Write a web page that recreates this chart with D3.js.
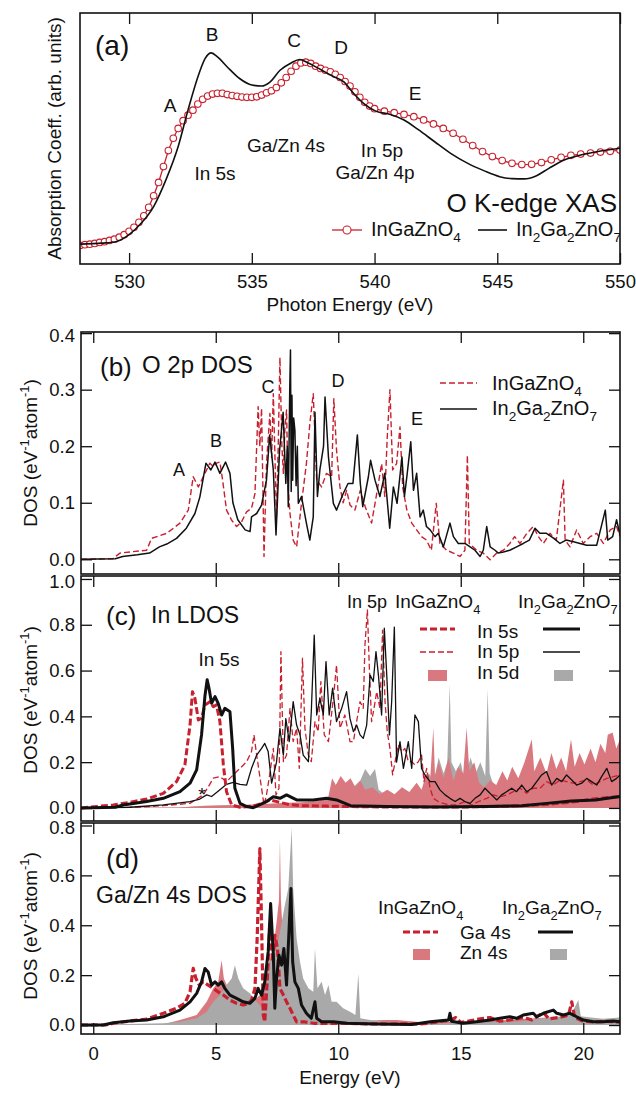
<!DOCTYPE html>
<html>
<head>
<meta charset="utf-8">
<script src="https://cdnjs.cloudflare.com/ajax/libs/d3/7.8.5/d3.min.js"></script>
<style>
  body { margin: 0; background: #fff; }
  svg { display: block; font-family: "Liberation Sans", Arial, sans-serif; }
</style>
</head>
<body>
<svg id="chart" width="636" height="1093"></svg>
<script>
// ---------- (a) O K-edge XAS, [photon energy eV, arb. units] ----------
const xasIGZO = [[528.0,0.074],[528.2,0.077],[528.4,0.079],[528.6,0.082],[528.8,0.086],[529.0,0.089],[529.2,0.094],[529.4,0.099],[529.6,0.107],[529.8,0.117],[530.0,0.13],[530.2,0.146],[530.4,0.166],[530.6,0.192],[530.8,0.226],[531.0,0.272],[531.2,0.325],[531.4,0.388],[531.6,0.452],[531.8,0.501],[532.0,0.54],[532.2,0.571],[532.4,0.593],[532.6,0.613],[532.8,0.637],[533.0,0.656],[533.2,0.669],[533.4,0.677],[533.6,0.68],[533.8,0.68],[534.0,0.675],[534.2,0.671],[534.4,0.668],[534.6,0.665],[534.8,0.664],[535.0,0.664],[535.2,0.666],[535.4,0.673],[535.6,0.682],[535.8,0.69],[536.0,0.703],[536.2,0.722],[536.4,0.743],[536.6,0.768],[536.8,0.788],[537.0,0.801],[537.2,0.804],[537.4,0.799],[537.6,0.788],[537.8,0.779],[538.0,0.772],[538.2,0.766],[538.4,0.756],[538.6,0.743],[538.8,0.727],[539.0,0.709],[539.2,0.686],[539.4,0.664],[539.6,0.644],[539.8,0.629],[540.0,0.619],[540.4,0.609],[540.8,0.603],[541.2,0.596],[541.6,0.587],[542.0,0.574],[542.4,0.558],[542.8,0.54],[543.2,0.521],[543.6,0.497],[544.0,0.472],[544.4,0.448],[544.8,0.428],[545.2,0.412],[545.6,0.401],[546.0,0.396],[546.4,0.397],[546.8,0.404],[547.2,0.415],[547.6,0.425],[548.0,0.433],[548.4,0.438],[548.8,0.442],[549.2,0.446],[549.6,0.449],[550.0,0.454]];
const xasIn2 = [[528.0,0.079],[528.9,0.083],[529.5,0.09],[530.0,0.117],[530.5,0.163],[531.0,0.229],[531.5,0.335],[532.0,0.468],[532.4,0.613],[532.85,0.759],[533.1,0.819],[533.35,0.841],[533.6,0.825],[534.0,0.785],[534.5,0.739],[535.0,0.713],[535.4,0.709],[535.75,0.726],[536.15,0.772],[536.6,0.801],[536.95,0.815],[537.3,0.801],[537.8,0.775],[538.3,0.748],[538.75,0.726],[539.15,0.679],[539.55,0.64],[540.05,0.609],[540.65,0.596],[541.2,0.574],[541.8,0.534],[542.45,0.487],[543.1,0.441],[543.8,0.401],[544.45,0.372],[545.1,0.348],[545.6,0.34],[546.1,0.339],[546.6,0.352],[547.1,0.381],[547.75,0.415],[548.4,0.434],[549.1,0.448],[550.0,0.461]];
const xasTicks = [530, 535, 540, 545, 550];

// ---------- (b) O 2p DOS, [energy eV, DOS] ----------
const o2pIGZO = [[-0.5,0],[0.8,0.001],[1.09,0.011],[1.5,0.013],[2.18,0.016],[2.38,0.037],[3.0,0.046],[3.54,0.064],[3.88,0.087],[4.08,0.146],[4.29,0.128],[4.49,0.146],[4.76,0.17],[4.9,0.164],[5.03,0.17],[5.17,0.172],[5.28,0.14],[5.44,0.087],[5.65,0.069],[5.85,0.058],[6.05,0.066],[6.26,0.084],[6.46,0.09],[6.6,0.116],[6.73,0.27],[6.8,0.2],[6.87,0.267],[6.97,0.005],[7.07,0.169],[7.21,0.258],[7.28,0.18],[7.35,0.293],[7.48,0.075],[7.55,0.2],[7.62,0.357],[7.7,0.2],[7.76,0.152],[7.82,0.23],[7.89,0.264],[7.95,0.13],[8.03,0.081],[8.16,0.034],[8.3,0.022],[8.5,0.099],[8.7,0.169],[8.84,0.24],[8.98,0.293],[9.12,0.14],[9.32,0.128],[9.52,0.152],[9.73,0.146],[9.82,0.284],[9.93,0.193],[10.07,0.128],[10.2,0.1],[10.34,0.122],[10.48,0.096],[10.68,0.087],[10.9,0.122],[11.1,0.093],[11.36,0.064],[11.57,0.116],[11.77,0.169],[11.9,0.111],[12.0,0.216],[12.11,0.30],[12.22,0.158],[12.38,0.169],[12.52,0.234],[12.63,0.128],[12.8,0.087],[13.0,0.064],[13.2,0.052],[13.4,0.04],[13.6,0.034],[13.8,0.016],[14.0,0.099],[14.15,0.028],[14.43,0.016],[14.7,0.011],[14.97,0.005],[15.17,0.016],[15.27,0.184],[15.35,0.028],[15.65,0.016],[15.92,0.011],[16.2,-0.001],[16.47,0.011],[16.74,0.016],[17.0,0.028],[17.2,0.04],[17.42,0.028],[17.7,0.046],[17.96,0.058],[18.17,0.04],[18.37,0.028],[18.64,0.046],[18.9,0.034],[19.19,0.14],[19.26,0.034],[19.46,0.022],[19.73,0.052],[20.0,0.028],[20.28,0.04],[20.55,0.046],[20.82,0.028],[21.1,0.052],[21.36,0.058],[21.5,0.04]];
const o2pIn2 = [[-0.5,0],[0.9,0.001],[1.2,0.005],[1.8,0.008],[2.3,0.011],[2.7,0.022],[3.0,0.027],[3.4,0.037],[3.8,0.055],[4.15,0.081],[4.35,0.11],[4.6,0.17],[4.8,0.158],[4.97,0.172],[5.17,0.152],[5.4,0.172],[5.58,0.152],[5.7,0.10],[5.9,0.07],[6.2,0.052],[6.4,0.049],[6.46,0.075],[6.67,0.081],[6.87,0.096],[7.07,0.14],[7.2,0.22],[7.35,0.158],[7.46,0.043],[7.6,0.19],[7.75,0.26],[7.86,0.134],[7.92,0.2],[7.96,0.093],[8.02,0.3],[8.05,0.37],[8.08,0.12],[8.11,0.29],[8.14,0.14],[8.18,0.25],[8.23,0.228],[8.28,0.13],[8.33,0.2],[8.37,0.099],[8.5,0.111],[8.7,0.064],[8.84,0.034],[8.98,0.075],[9.05,0.26],[9.15,0.111],[9.25,0.158],[9.4,0.2],[9.46,0.287],[9.6,0.181],[9.8,0.099],[9.93,0.087],[10.2,0.116],[10.4,0.134],[10.6,0.134],[10.78,0.22],[10.9,0.134],[11.0,0.093],[11.23,0.146],[11.32,0.175],[11.5,0.14],[11.7,0.111],[11.9,0.152],[12.1,0.055],[12.25,0.128],[12.4,0.099],[12.6,0.181],[12.7,0.111],[12.8,0.146],[12.96,0.208],[13.07,0.122],[13.2,0.152],[13.34,0.075],[13.47,0.087],[13.6,0.058],[13.75,0.052],[13.95,0.04],[14.08,0.046],[14.29,0.022],[14.56,0.064],[14.7,0.04],[14.9,0.028],[15.17,0.028],[15.38,0.022],[15.58,0.016],[15.79,0.005],[15.92,0.016],[16.06,0.058],[16.2,0.022],[16.4,0.016],[16.53,0.011],[16.74,0.013],[17.0,0.016],[17.28,0.022],[17.55,0.028],[17.8,0.034],[18.03,0.055],[18.23,0.046],[18.5,0.046],[18.8,0.037],[19.05,0.028],[19.3,0.034],[19.6,0.031],[19.87,0.028],[20.14,0.025],[20.55,0.025],[20.9,0.087],[21.0,0.034],[21.2,0.04],[21.36,0.07],[21.5,0.043]];

// ---------- (c) In LDOS ----------
const in5sIGZO = [[-0.5,0],[0.82,0.013],[1.5,0.025],[2.18,0.039],[2.86,0.064],[3.4,0.115],[3.74,0.188],[3.95,0.362],[4.05,0.508],[4.15,0.479],[4.29,0.384],[4.42,0.392],[4.56,0.45],[4.76,0.464],[4.9,0.442],[5.03,0.45],[5.17,0.377],[5.31,0.188],[5.44,0.071],[5.65,0.013],[5.99,0.003],[6.5,0.008],[6.9,0.02],[7.2,0.035],[7.6,0.025],[8.0,0.015],[8.5,0.01],[9.5,0.008],[11,0.005],[13,0.004],[15,0.004],[17,0.008],[18.5,0.015],[19.5,0.025],[20.5,0.04],[21.5,0.05]];
const in5sIn2 = [[-0.5,0],[0.9,0.003],[1.22,0.013],[2.18,0.028],[2.86,0.042],[3.54,0.071],[3.95,0.108],[4.22,0.166],[4.42,0.319],[4.56,0.49],[4.65,0.56],[4.73,0.52],[4.83,0.457],[4.97,0.486],[5.1,0.457],[5.24,0.406],[5.37,0.435],[5.58,0.42],[5.69,0.26],[5.78,0.086],[5.99,0.02],[6.26,0.006],[6.53,0.001],[7.07,0.028],[7.35,0.049],[7.62,0.042],[7.89,0.057],[8.3,0.035],[8.98,0.035],[9.52,0.042],[9.93,0.035],[10.5,0.01],[12,0.006],[14,0.004],[16,0.006],[17.5,0.01],[18.5,0.02],[19.5,0.03],[20.5,0.035],[21.5,0.05]];
const in5pIGZO = [[-0.5,0],[2.0,0.004],[2.86,0.01],[3.95,0.02],[4.49,0.057],[4.7,0.093],[4.9,0.13],[5.17,0.137],[5.44,0.115],[5.71,0.144],[5.99,0.173],[6.26,0.202],[6.46,0.246],[6.56,0.319],[6.67,0.231],[6.87,0.086],[6.97,0.013],[7.07,0.057],[7.2,0.144],[7.35,0.26],[7.46,0.057],[7.58,0.086],[7.66,0.683],[7.76,0.202],[7.89,0.231],[8.03,0.435],[8.16,0.29],[8.3,0.348],[8.41,0.173],[8.54,0.654],[8.64,0.348],[8.78,0.231],[8.9,0.202],[9.05,0.377],[9.18,0.333],[9.29,0.552],[9.43,0.319],[9.6,0.29],[9.8,0.479],[9.93,0.624],[10.07,0.348],[10.27,0.406],[10.48,0.29],[10.62,0.29],[10.75,0.377],[10.89,0.464],[11.02,0.435],[11.09,0.712],[11.19,0.865],[11.27,0.61],[11.36,0.377],[11.46,0.435],[11.57,0.508],[11.7,0.435],[11.81,0.777],[11.91,0.464],[12.0,0.333],[12.11,0.26],[12.22,0.144],[12.32,0.202],[12.45,0.275],[12.59,0.246],[12.72,0.26],[12.86,0.202],[13.0,0.202],[13.13,0.188],[13.27,0.202],[13.4,0.231],[13.5,0.115],[13.61,0.173],[13.75,0.086],[13.88,0.042],[14.08,0.028],[14.29,0.02],[14.56,0.013],[14.83,0.013],[15.17,0.028],[15.45,0.013],[15.72,0.028],[16.06,0.042],[16.33,0.057],[16.6,0.049],[16.87,0.057],[17.15,0.071],[17.42,0.086],[17.69,0.064],[17.96,0.086],[18.24,0.086],[18.5,0.115],[18.78,0.1],[19.05,0.122],[19.32,0.115],[19.6,0.108],[19.87,0.115],[20.14,0.122],[20.41,0.1],[20.68,0.115],[20.96,0.129],[21.23,0.137],[21.5,0.144]];
const in5pIn2 = [[-0.5,0],[1.5,0.003],[2.86,0.013],[3.95,0.028],[4.35,0.039],[4.63,0.057],[4.83,0.05],[5.17,0.079],[5.44,0.103],[5.71,0.112],[5.99,0.103],[6.26,0.1],[6.46,0.173],[6.67,0.231],[6.87,0.26],[7.0,0.282],[7.14,0.246],[7.28,0.108],[7.48,0.2],[7.62,0.348],[7.76,0.231],[7.86,0.39],[8.0,0.29],[8.16,0.464],[8.3,0.362],[8.44,0.319],[8.57,0.231],[8.78,0.202],[8.9,0.42],[9.02,0.755],[9.12,0.406],[9.25,0.479],[9.39,0.406],[9.5,0.639],[9.63,0.406],[9.77,0.523],[9.93,0.377],[10.14,0.435],[10.34,0.508],[10.48,0.39],[10.62,0.333],[10.75,0.362],[10.89,0.319],[11.02,0.304],[11.16,0.362],[11.3,0.58],[11.43,0.552],[11.54,0.683],[11.64,0.58],[11.77,0.406],[11.88,0.785],[11.98,0.58],[12.09,0.319],[12.18,0.464],[12.29,0.79],[12.38,0.2],[12.52,0.29],[12.66,0.173],[12.86,0.29],[13.0,0.173],[13.13,0.406],[13.27,0.377],[13.4,0.173],[13.54,0.144],[13.75,0.115],[13.95,0.115],[14.15,0.079],[14.36,0.057],[14.56,0.042],[14.77,0.028],[14.97,0.042],[15.17,0.028],[15.38,0.02],[15.58,0.042],[15.79,0.057],[15.99,0.086],[16.13,0.071],[16.26,0.057],[16.47,0.035],[16.67,0.057],[16.87,0.071],[17.08,0.086],[17.28,0.071],[17.49,0.1],[17.69,0.071],[17.9,0.086],[18.1,0.115],[18.3,0.144],[18.5,0.159],[18.71,0.1],[18.92,0.129],[19.12,0.115],[19.32,0.144],[19.53,0.122],[19.73,0.1],[19.94,0.108],[20.14,0.129],[20.34,0.115],[20.55,0.1],[20.75,0.137],[20.96,0.173],[21.16,0.115],[21.36,0.129],[21.5,0.144]];
const in5dIGZO = [[-0.5,0],[3.5,0.002],[4.5,0.008],[5.5,0.012],[6.5,0.015],[7.5,0.02],[8.5,0.025],[9.2,0.03],[9.6,0.05],[9.75,0.13],[9.9,0.1],[10.1,0.14],[10.3,0.11],[10.5,0.13],[10.7,0.09],[10.9,0.12],[11.1,0.08],[11.4,0.09],[11.7,0.06],[12.0,0.08],[12.3,0.06],[12.6,0.09],[12.9,0.07],[13.2,0.11],[13.4,0.08],[13.6,0.15],[13.75,0.12],[13.88,0.35],[13.95,0.14],[14.1,0.2],[14.3,0.13],[14.5,0.22],[14.7,0.12],[14.9,0.18],[15.1,0.15],[15.24,0.35],[15.35,0.16],[15.55,0.2],[15.75,0.11],[15.95,0.09],[16.2,0.12],[16.45,0.1],[16.7,0.16],[16.9,0.12],[17.1,0.18],[17.35,0.13],[17.6,0.2],[17.9,0.3],[18.0,0.16],[18.25,0.22],[18.5,0.15],[18.7,0.24],[18.9,0.17],[19.1,0.22],[19.3,0.16],[19.5,0.3],[19.65,0.18],[19.85,0.24],[20.05,0.19],[20.3,0.26],[20.5,0.2],[20.7,0.28],[20.9,0.24],[21.0,0.32],[21.2,0.33],[21.35,0.26],[21.5,0.3]];
const in5dIn2 = [[-0.5,0],[3.5,0.002],[4.5,0.01],[5.5,0.012],[6.5,0.01],[7.5,0.015],[8.5,0.02],[9.5,0.03],[9.75,0.08],[10.0,0.09],[10.3,0.1],[10.6,0.09],[10.9,0.12],[11.1,0.17],[11.3,0.14],[11.5,0.17],[11.65,0.08],[12.0,0.05],[12.5,0.06],[13.0,0.05],[13.5,0.08],[13.7,0.15],[13.9,0.12],[14.1,0.22],[14.3,0.15],[14.45,0.2],[14.55,0.54],[14.62,0.2],[14.8,0.16],[15.0,0.2],[15.15,0.12],[15.4,0.22],[15.6,0.15],[15.8,0.2],[16.0,0.14],[16.1,0.52],[16.18,0.15],[16.4,0.08],[16.7,0.06],[17.0,0.08],[17.5,0.1],[18.0,0.12],[18.5,0.13],[19.0,0.12],[19.5,0.14],[20.0,0.15],[20.3,0.2],[20.5,0.16],[20.8,0.22],[21.0,0.18],[21.5,0.2]];

// ---------- (d) Ga/Zn 4s DOS ----------
const ga4sIGZO = [[-0.5,0],[0.5,0.0],[0.82,0.007],[1.5,0.016],[2.18,0.024],[2.86,0.047],[3.4,0.067],[3.74,0.087],[3.95,0.133],[4.08,0.227],[4.19,0.187],[4.33,0.16],[4.49,0.173],[4.69,0.16],[4.9,0.147],[5.1,0.133],[5.31,0.12],[5.58,0.1],[5.85,0.087],[6.12,0.08],[6.33,0.087],[6.46,0.1],[6.6,0.147],[6.69,0.347],[6.8,0.707],[6.87,0.413],[6.94,0.04],[7.0,0.013],[7.1,0.173],[7.21,0.413],[7.32,0.253],[7.41,0.36],[7.52,0.307],[7.62,0.147],[7.76,0.12],[7.89,0.093],[8.03,0.067],[8.16,0.04],[8.3,0.013],[8.6,0.013],[9.0,0.007],[10,0.007],[11,0.005],[12,0.004],[13.5,0.005],[14.6,0.02],[14.8,0.03],[15.0,0.01],[15.8,0.025],[16.2,0.03],[16.6,0.015],[17.0,0.02],[17.6,0.03],[17.9,0.02],[18.37,0.05],[18.6,0.025],[19.0,0.03],[19.4,0.04],[19.53,0.093],[19.65,0.03],[20.0,0.015],[20.5,0.012],[21.0,0.015],[21.5,0.012]];
const ga4sIn2 = [[-0.5,0],[0.4,0.0],[0.82,0.009],[1.5,0.016],[2.18,0.02],[2.86,0.033],[3.54,0.06],[3.95,0.093],[4.22,0.127],[4.42,0.173],[4.56,0.227],[4.69,0.213],[4.83,0.16],[4.97,0.173],[5.1,0.16],[5.24,0.173],[5.37,0.147],[5.58,0.12],[5.85,0.107],[6.12,0.093],[6.39,0.087],[6.6,0.107],[6.73,0.147],[6.87,0.12],[7.0,0.173],[7.14,0.293],[7.24,0.487],[7.35,0.28],[7.41,0.067],[7.48,0.187],[7.58,0.28],[7.69,0.24],[7.78,0.307],[7.89,0.16],[8.0,0.4],[8.07,0.547],[8.14,0.253],[8.23,0.173],[8.37,0.147],[8.5,0.08],[8.7,0.047],[8.9,0.027],[9.05,0.093],[9.12,0.027],[9.32,0.013],[9.8,0.013],[10.34,0.007],[11.5,0.004],[13.0,0.002],[13.75,0.013],[14.5,0.02],[14.56,0.047],[14.62,0.015],[15.1,0.007],[15.65,0.013],[16.2,0.02],[16.6,0.027],[17.0,0.033],[17.28,0.027],[17.55,0.04],[17.96,0.047],[18.1,0.033],[18.37,0.047],[18.78,0.06],[18.92,0.047],[19.19,0.04],[19.46,0.047],[19.73,0.033],[20.0,0.02],[20.41,0.013],[20.82,0.013],[21.23,0.016],[21.5,0.013]];
const zn4sIGZO = [[-0.5,0],[2.86,0.003],[3.54,0.02],[4.22,0.04],[4.63,0.093],[4.9,0.147],[5.1,0.173],[5.24,0.26],[5.33,0.187],[5.51,0.147],[5.71,0.12],[5.99,0.093],[6.26,0.08],[6.53,0.093],[6.8,0.12],[7.0,0.187],[7.14,0.24],[7.35,0.307],[7.5,0.427],[7.58,0.5],[7.62,0.747],[7.66,0.5],[7.71,0.413],[7.82,0.253],[7.96,0.173],[8.16,0.147],[8.44,0.107],[8.7,0.093],[8.98,0.053],[9.25,0.04],[9.8,0.027],[10.5,0.013],[11.8,0.02],[12.4,0.02],[13.5,0.01],[15,0.015],[17,0.02],[18.5,0.03],[19.5,0.035],[20.5,0.025],[21.5,0.02]];
const zn4sIn2 = [[-0.5,0],[2.86,0.007],[3.54,0.013],[4.22,0.027],[4.63,0.053],[4.9,0.093],[5.17,0.12],[5.44,0.16],[5.65,0.187],[5.78,0.24],[5.92,0.187],[6.12,0.147],[6.39,0.127],[6.67,0.093],[6.91,0.067],[7.07,0.173],[7.28,0.28],[7.48,0.307],[7.62,0.373],[7.82,0.48],[7.96,0.547],[8.1,0.79],[8.16,0.547],[8.3,0.347],[8.44,0.253],[8.57,0.187],[8.78,0.147],[8.98,0.133],[9.05,0.307],[9.15,0.147],[9.32,0.173],[9.46,0.12],[9.6,0.16],[9.73,0.093],[9.93,0.093],[10.2,0.067],[10.48,0.053],[10.7,0.04],[10.82,0.207],[10.9,0.027],[11.3,0.02],[11.84,0.013],[12.5,0.007],[13.5,0.005],[14.5,0.008],[15.5,0.01],[16.5,0.012],[17.5,0.015],[18.1,0.025],[18.8,0.03],[19.5,0.04],[19.8,0.1],[19.9,0.035],[20.3,0.03],[20.8,0.025],[21.5,0.03]];

const energyTicks = [0, 5, 10, 15, 20];
const ticksB = [0, 0.1, 0.2, 0.3, 0.4];
const ticksC = [0, 0.2, 0.4, 0.6, 0.8, 1.0];
const ticksD = [0, 0.2, 0.4, 0.6, 0.8];

const red = "#c8202e", pink = "#d9787f", gray = "#a9a9a9";
const svg = d3.select("#chart");

// scales
const xA = d3.scaleLinear().domain([528, 550]).range([80, 620]);
const yA = d3.scaleLinear().domain([0, 1]).range([264, 13]);
const xE = d3.scaleLinear().domain([-0.5, 21.5]).range([81, 620]);
const yB = d3.scaleLinear().domain([-0.026, 0.402]).range([574, 332]);
const yC = d3.scaleLinear().domain([-0.057, 1.013]).range([821, 576]);
const yD = d3.scaleLinear().domain([-0.036, 0.81]).range([1034, 823]);

// text with _sub and ^{sup}
function rich(g, x, y, str, size, anchor) {
  const t = g.append("text").attr("x", x).attr("y", y)
    .attr("font-size", size).attr("text-anchor", anchor || "start").attr("fill", "#111");
  const re = /([_^])(\{[^}]*\}|.)|([^_^]+)/g;
  let m, shift = 0;
  while ((m = re.exec(str))) {
    if (m[3]) {
      t.append("tspan").attr("dy", -shift).text(m[3]);
      shift = 0;
    } else {
      const d = m[1] === "_" ? size * 0.3 : -size * 0.42;
      t.append("tspan").attr("dy", d - shift).attr("font-size", size * 0.68)
        .text(m[2].replace(/[{}]/g, ""));
      shift = d;
    }
  }
  return t;
}

function panel(id, x, y) {
  const [x0, x1] = x.range();
  const [y1, y0] = y.range();
  svg.append("clipPath").attr("id", "clip-" + id)
    .append("rect").attr("x", x0).attr("y", y0).attr("width", x1 - x0).attr("height", y1 - y0);
  const g = svg.append("g");
  const plot = g.append("g").attr("clip-path", `url(#clip-${id})`);
  return { g, plot, x, y, x0, x1, y0, y1, id };
}

function styleAxis(a) {
  a.select(".domain").remove();
  a.attr("font-family", null).attr("font-size", 18.5);
  a.selectAll("line").attr("stroke", "#111").attr("stroke-width", 1.3);
  a.selectAll("text").attr("fill", "#111");
}

function axes(p, xticks, xfmt, xpad, yticks) {
  p.g.append("g").attr("transform", `translate(0,${p.y1})`)
    .call(d3.axisBottom(p.x).tickValues(xticks).tickSize(-11).tickPadding(xpad).tickFormat(xfmt))
    .call(styleAxis);
  p.g.append("g").attr("transform", `translate(0,${p.y0})`)
    .call(d3.axisTop(p.x).tickValues(xticks).tickSize(-11).tickFormat(""))
    .call(styleAxis);
  if (yticks) {
    const left = p.g.append("g").attr("transform", `translate(${p.x0},0)`)
      .call(d3.axisLeft(p.y).tickValues(yticks).tickSize(-11).tickPadding(6).tickFormat(d3.format(".1f")))
      .call(styleAxis);
    // keep the top label of a stacked panel clear of the panel above
    const top = d3.max(yticks);
    left.selectAll(".tick").filter(d => d === top && p.y(d) - p.y0 < 6)
      .select("text").attr("dy", "0.45em");
    p.g.append("g").attr("transform", `translate(${p.x1},0)`)
      .call(d3.axisRight(p.y).tickValues(yticks).tickSize(-11).tickFormat(""))
      .call(styleAxis);
  }
}

function frame(p) {
  p.g.append("rect").attr("x", p.x0).attr("y", p.y0)
    .attr("width", p.x1 - p.x0).attr("height", p.y1 - p.y0)
    .attr("fill", "none").attr("stroke", "#111").attr("stroke-width", 1.6);
}

function drawLine(p, data, color, width, dash) {
  const line = d3.line().x(d => p.x(d[0])).y(d => p.y(d[1]));
  p.plot.append("path").datum(data).attr("d", line)
    .attr("fill", "none").attr("stroke", color).attr("stroke-width", width)
    .attr("stroke-linejoin", "round").attr("stroke-dasharray", dash || null);
}

function drawArea(p, data, color) {
  const area = d3.area().x(d => p.x(d[0])).y0(p.y(0)).y1(d => p.y(d[1]));
  p.plot.append("path").datum(data).attr("d", area).attr("fill", color).attr("stroke", "none");
}

function yTitle(g, x, yc) {
  const t = rich(g, 0, 0, "DOS (eV^{-1}atom^{-1})", 19, "middle");
  t.attr("transform", `translate(${x},${yc}) rotate(-90)`);
}

// ================= panel (a) =================
const pa = panel("a", xA, yA);
pa.plot.append("path").datum(xasIGZO)
  .attr("d", d3.line().x(d => xA(d[0])).y(d => yA(d[1])))
  .attr("fill", "none").attr("stroke", red).attr("stroke-width", 1.3);
pa.plot.selectAll("circle.xas").data(xasIGZO).join("circle")
  .attr("cx", d => xA(d[0])).attr("cy", d => yA(d[1])).attr("r", 3.3)
  .attr("fill", "#fff").attr("stroke", red).attr("stroke-width", 1.1);
pa.plot.append("path").datum(xasIn2)
  .attr("d", d3.line().curve(d3.curveMonotoneX).x(d => xA(d[0])).y(d => yA(d[1])))
  .attr("fill", "none").attr("stroke", "#111").attr("stroke-width", 1.6);

const ta = pa.plot.append("g");
rich(ta, 95, 55, "(a)", 28);
[["A", 170, 112], ["B", 212, 41], ["C", 294, 47], ["D", 341, 54], ["E", 415, 100],
 ["Ga/Zn 4s", 286, 152], ["In 5s", 215, 180], ["In 5p", 382, 157], ["Ga/Zn 4p", 375, 179]]
  .forEach(([s, x, y]) => rich(ta, x, y, s, 19, "middle"));
rich(ta, 617, 212, "O K-edge XAS", 26, "end");
ta.append("line").attr("x1", 332).attr("x2", 362).attr("y1", 230).attr("y2", 230)
  .attr("stroke", red).attr("stroke-width", 1.3);
ta.append("circle").attr("cx", 347).attr("cy", 230).attr("r", 4)
  .attr("fill", "#fff").attr("stroke", red).attr("stroke-width", 1.1);
rich(ta, 371, 236, "InGaZnO_4", 20);
ta.append("line").attr("x1", 478).attr("x2", 507).attr("y1", 230).attr("y2", 230)
  .attr("stroke", "#111").attr("stroke-width", 1.6);
rich(ta, 516, 236, "In_2Ga_2ZnO_7", 20);

axes(pa, xasTicks, d3.format("d"), 11, null);
frame(pa);
rich(svg, 350, 311, "Photon Energy (eV)", 19, "middle");
rich(svg, 0, 0, "Absorption Coeff. (arb. units)", 19, "middle")
  .attr("transform", `translate(61,138.5) rotate(-90)`);

// ================= panel (b) =================
const pb = panel("b", xE, yB);
drawLine(pb, o2pIGZO, red, 1.4, "6,3");
drawLine(pb, o2pIn2, "#111", 1.5);
const tb = pb.plot.append("g");
rich(tb, 100, 376, "(b)", 26);
rich(tb, 142, 373, "O 2p DOS", 24);
[["A", 179, 476], ["B", 216, 447], ["C", 268, 393], ["D", 338, 387], ["E", 417, 425]]
  .forEach(([s, x, y]) => rich(tb, x, y, s, 18, "middle"));
tb.append("line").attr("x1", 440).attr("x2", 477).attr("y1", 383).attr("y2", 383)
  .attr("stroke", red).attr("stroke-width", 1.4).attr("stroke-dasharray", "6,3");
rich(tb, 492, 390, "InGaZnO_4", 20);
tb.append("line").attr("x1", 440).attr("x2", 477).attr("y1", 409).attr("y2", 409)
  .attr("stroke", "#111").attr("stroke-width", 1.5);
rich(tb, 492, 415, "In_2Ga_2ZnO_7", 20);
axes(pb, energyTicks, "", 0, ticksB);
frame(pb);
yTitle(svg, 37, 453);

// ================= panel (c) =================
const pc = panel("c", xE, yC);
drawArea(pc, in5dIn2, gray);
drawArea(pc, in5dIGZO, pink);
drawLine(pc, in5pIGZO, red, 1.3, "6,3");
drawLine(pc, in5pIn2, "#111", 1.3);
drawLine(pc, in5sIGZO, red, 3, "7,3");
drawLine(pc, in5sIn2, "#111", 3);
const tc = pc.plot.append("g");
rich(tc, 106, 625, "(c)", 26);
rich(tc, 151, 623, "In LDOS", 23);
rich(tc, 219, 666, "In 5s", 19, "middle");
rich(tc, 202, 801, "*", 19, "middle");
rich(tc, 347, 608, "In 5p", 18);
rich(tc, 395, 608, "InGaZnO_4", 19);
rich(tc, 518, 608, "In_2Ga_2ZnO_7", 19);
rich(tc, 477, 638, "In 5s", 19);
rich(tc, 477, 658, "In 5p", 19);
rich(tc, 477, 679, "In 5d", 19);
tc.append("line").attr("x1", 420).attr("x2", 455).attr("y1", 629).attr("y2", 629)
  .attr("stroke", red).attr("stroke-width", 3).attr("stroke-dasharray", "7,3");
tc.append("line").attr("x1", 543).attr("x2", 580).attr("y1", 629).attr("y2", 629)
  .attr("stroke", "#111").attr("stroke-width", 3);
tc.append("line").attr("x1", 420).attr("x2", 455).attr("y1", 652).attr("y2", 652)
  .attr("stroke", red).attr("stroke-width", 1.3).attr("stroke-dasharray", "6,3");
tc.append("line").attr("x1", 543).attr("x2", 580).attr("y1", 652).attr("y2", 652)
  .attr("stroke", "#111").attr("stroke-width", 1.3);
tc.append("rect").attr("x", 428).attr("y", 670).attr("width", 19).attr("height", 11).attr("fill", pink);
tc.append("rect").attr("x", 554).attr("y", 670).attr("width", 19).attr("height", 11).attr("fill", gray);
axes(pc, energyTicks, "", 0, ticksC);
frame(pc);
yTitle(svg, 37, 700);

// ================= panel (d) =================
const pd = panel("d", xE, yD);
drawArea(pd, zn4sIGZO, pink);
drawArea(pd, zn4sIn2, gray);
drawLine(pd, ga4sIGZO, red, 3.2, "7,3");
drawLine(pd, ga4sIn2, "#111", 3);
const td = pd.plot.append("g");
rich(td, 106, 868, "(d)", 27);
rich(td, 96, 903, "Ga/Zn 4s DOS", 23);
rich(td, 378, 914, "InGaZnO_4", 19);
rich(td, 502, 914, "In_2Ga_2ZnO_7", 19);
rich(td, 460, 939, "Ga 4s", 19);
rich(td, 460, 959, "Zn 4s", 19);
td.append("line").attr("x1", 403).attr("x2", 438).attr("y1", 932).attr("y2", 932)
  .attr("stroke", red).attr("stroke-width", 3.2).attr("stroke-dasharray", "7,3");
td.append("line").attr("x1", 538).attr("x2", 573).attr("y1", 932).attr("y2", 932)
  .attr("stroke", "#111").attr("stroke-width", 3);
td.append("rect").attr("x", 413).attr("y", 949).attr("width", 17).attr("height", 11).attr("fill", pink);
td.append("rect").attr("x", 550).attr("y", 949).attr("width", 17).attr("height", 11).attr("fill", gray);
axes(pd, energyTicks, d3.format("d"), 13, ticksD);
frame(pd);
yTitle(svg, 37, 926);
rich(svg, 350, 1084, "Energy (eV)", 19, "middle");
</script>
</body>
</html>
